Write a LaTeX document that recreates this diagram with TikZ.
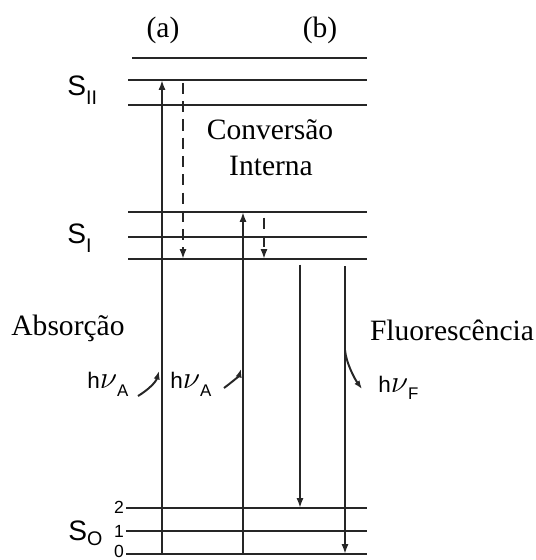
\documentclass[tikz,border=0pt]{standalone}
\usepackage{fontspec}
\setmainfont{Liberation Serif}
\setsansfont{Liberation Sans}
\usetikzlibrary{arrows.meta}
\newcommand\lowsub[2]{\raisebox{-#1}{\fontsize{12}{13}\selectfont #2}}

\begin{document}
\begin{tikzpicture}[x=0.025cm,y=-0.025cm, font=\fontsize{21}{24}\selectfont,
  level/.style={line width=1.9pt, draw=black!85},
  trans/.style={-{Latex[length=7pt,width=5pt]}, line width=1.5pt, draw=black!85},
  conv/.style={trans, dash pattern=on 8pt off 5pt},
  photon/.style={-{Latex[length=6pt,width=4.5pt]}, line width=1.4pt, draw=black!85},
  statelab/.style={font=\sffamily\fontsize{20}{22}\selectfont, anchor=base west, inner sep=0pt},
  vib/.style={font=\sffamily\fontsize{12.5}{14}\selectfont, inner sep=0pt},
  hnu/.style={font=\sffamily\fontsize{16}{18}\selectfont, anchor=base west, inner sep=0pt},
  lab/.style={anchor=base, inner sep=0pt},
  ]
\useasboundingbox (0,0) rectangle (536,560);
% ---- the levels
\foreach \name/\y/\xl in {s2c/58/132, s2b/80/128, s2a/105/128, s1c/212/128, s1b/237/128,
                          s1a/259/128, g2/508/126, g1/531/126, g0/554/126}{
  \coordinate (\name) at (\xl,\y);
  \coordinate (\name-e) at (367,\y);
  \draw[level] (\name) -- (\name-e);
}
% ---- the columns
\coordinate (colA) at (162,0);
\coordinate (colAd) at (183,0);
\coordinate (colB) at (243,0);
\coordinate (colBd) at (264,0);
\coordinate (colF1) at (300,0);
\coordinate (colF2) at (345,0);
% ---- the transitions
\draw[trans] (colA |- g0) -- (colA |- s2b);
\draw[conv, shorten <=2pt] (colAd |- s2b) -- (colAd |- s1a);
\draw[trans] (colB |- g0) -- (colB |- s1c);
\draw[conv, shorten <=4pt] (colBd |- s1c) -- (colBd |- s1a);
\draw[trans, shorten <=4pt] (colF1 |- s1a) -- (colF1 |- g2);
\draw[trans, shorten <=5pt] (colF2 |- s1a) -- (colF2 |- g0);
% ---- the photons
\coordinate (phA1) at (138,396);
\coordinate (phA1-e) at (159,371);
\coordinate (phA2) at (224,388);
\coordinate (phA2-e) at (241,369);
\coordinate (phF) at (345,350);
\coordinate (phF-e) at (362,389);
\draw[photon] (phA1) .. controls (148,390) and (156,382) .. (phA1-e);
\draw[photon] (phA2) .. controls (232,382) and (239,376) .. (phA2-e);
\draw[photon] (phF) .. controls (346,362) and (354,378) .. (phF-e);
% ---- the labels
\node[lab] (labA) at (163,37) {(a)};
\node[lab] (labB) at (320,37) {(b)};
\node[lab] (convlab) at (270,139) {Conversão};
\node[lab] (intlab) at (271,175) {Interna};
\node[lab] (abslab) at (68,335) {Absorção};
\node[lab] (fluolab) at (452,340) {Fluorescência};
\node[statelab] (sII) at (67,95) {S\lowsub{7pt}{\fontsize{14}{15}\selectfont II}};
\node[statelab] (sI) at (67,243) {S\lowsub{7pt}{\fontsize{14}{15}\selectfont I}};
\node[statelab] (s0) at (68,540) {S\lowsub{4pt}{\fontsize{14}{15}\selectfont O}};
\node[vib] (v2) at (119,507) {2};
\node[vib] (v1) at (119,531) {1};
\node[vib] (v0) at (119,551) {0};
\node[hnu] (hA1) at (87,388) {h\scalebox{1.3}{$\nu$}\lowsub{6pt}{A}};
\node[hnu] (hA2) at (170,388) {h\scalebox{1.3}{$\nu$}\lowsub{6pt}{A}};
\node[hnu] (hF) at (378,392) {h\scalebox{1.3}{$\nu$}\lowsub{5.5pt}{F}};
\end{tikzpicture}
\end{document}
